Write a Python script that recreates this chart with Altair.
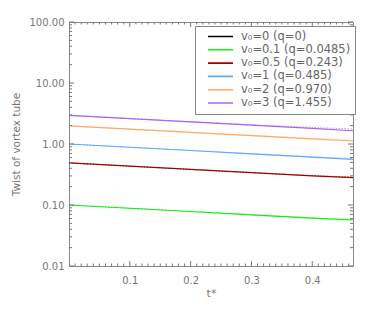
import altair as alt
import pandas as pd

# ---- data ----
t_vals = [0.0, 0.1, 0.2, 0.3, 0.4, 0.467]
series_labels = [
    "v₀=0 (q=0)",
    "v₀=0.1 (q=0.0485)",
    "v₀=0.5 (q=0.243)",
    "v₀=1 (q=0.485)",
    "v₀=2 (q=0.970)",
    "v₀=3 (q=1.455)",
]
series_colors = ["#000000", "#10f010", "#a00000", "#60a8ff", "#ffaa66", "#a864f0"]

green = [0.100, 0.0884, 0.0782, 0.0691, 0.0611, 0.0568]
red = [0.490, 0.433, 0.383, 0.339, 0.300, 0.280]
blue = [1.00, 0.884, 0.782, 0.691, 0.611, 0.560]
orange = [1.98, 1.75, 1.55, 1.37, 1.21, 1.12]
purple = [2.95, 2.61, 2.31, 2.04, 1.80, 1.65]

green_d = [0.100, 0.0884, 0.0782, 0.0692, 0.0613, 0.0572]
red_d = [0.490, 0.433, 0.383, 0.340, 0.303, 0.287]
blue_d = [1.00, 0.884, 0.782, 0.694, 0.618, 0.575]
orange_d = [1.98, 1.75, 1.55, 1.38, 1.23, 1.15]
purple_d = [2.95, 2.61, 2.32, 2.07, 1.87, 1.76]

y_major = [0.01, 0.1, 1, 10, 100]
x_major = [0.1, 0.2, 0.3, 0.4]

# ---- tables ----
solid_sets = [(series_labels[1], green), (series_labels[2], red), (series_labels[3], blue),
              (series_labels[4], orange), (series_labels[5], purple)]
dotted_sets = [(series_labels[1], green_d), (series_labels[2], red_d), (series_labels[3], blue_d),
               (series_labels[4], orange_d), (series_labels[5], purple_d)]

solid = pd.DataFrame([{"t": t, "v": v, "s": s} for s, vals in solid_sets for t, v in zip(t_vals, vals)])
dotted = pd.DataFrame([{"t": t, "v": v, "s": s} for s, vals in dotted_sets for t, v in zip(t_vals, vals)])

y_minor = [m * d for d in [0.01, 0.1, 1, 10] for m in range(2, 10)]
x_minor = [round(i * 0.01, 2) for i in range(1, 47) if i % 10 != 0]

W, H = 284, 244
xs = alt.Scale(domain=[0, 0.467], nice=False, zero=False)
ys = alt.Scale(type="log", domain=[0.01, 100], nice=False)
cs = alt.Scale(domain=series_labels, range=series_colors)

base_x = alt.X("t:Q", scale=xs,
               axis=alt.Axis(values=x_major, format=".1f", ticks=False, domain=False, grid=False,
                             labelPadding=9, title="t*", titlePadding=2))
base_y = alt.Y("v:Q", scale=ys,
               axis=alt.Axis(values=y_major, format=".2f", ticks=False, domain=False, grid=False,
                             labelPadding=5, title="Twist of vortex tube", titlePadding=8,
                             titleFontSize=10.5))

lines = alt.Chart(solid).mark_line(strokeWidth=1.2).encode(
    x=base_x, y=base_y,
    color=alt.Color("s:N", scale=cs, sort=series_labels,
                    legend=alt.Legend(title=None, orient="none", legendX=126, legendY=4,
                                      symbolType="stroke", symbolSize=625, symbolStrokeWidth=1.6,
                                      clipHeight=13, rowPadding=0.3, padding=4, symbolOffset=8,
                                      labelOffset=7, labelLimit=300, labelFontSize=11.5,
                                      labelFont="DejaVu Sans", labelColor="#666666",
                                      strokeColor="#888888", fillColor="#ffffff")),
)
dots = alt.Chart(dotted).mark_line(strokeWidth=1, strokeDash=[1, 2]).encode(
    x=alt.X("t:Q", scale=xs), y=alt.Y("v:Q", scale=ys),
    color=alt.Color("s:N", scale=cs, legend=None),
)

tick_col = "#777777"
xmaj = pd.DataFrame({"t": x_major})
xmin = pd.DataFrame({"t": x_minor})
ymaj = pd.DataFrame({"v": y_major})
ymin = pd.DataFrame({"v": y_minor})

def xticks(df, length):
    bot = alt.Chart(df).mark_rule(color=tick_col, strokeWidth=1).encode(
        x=alt.X("t:Q", scale=xs), y=alt.value(H), y2=alt.value(H - length))
    top = alt.Chart(df).mark_rule(color=tick_col, strokeWidth=1).encode(
        x=alt.X("t:Q", scale=xs), y=alt.value(0), y2=alt.value(length))
    return [bot, top]

def yticks(df, length):
    lft = alt.Chart(df).mark_rule(color=tick_col, strokeWidth=1).encode(
        y=alt.Y("v:Q", scale=ys), x=alt.value(0), x2=alt.value(length))
    rgt = alt.Chart(df).mark_rule(color=tick_col, strokeWidth=1).encode(
        y=alt.Y("v:Q", scale=ys), x=alt.value(W), x2=alt.value(W - length))
    return [lft, rgt]

layers = [lines, dots] + xticks(xmaj, 5) + xticks(xmin, 2.5) + yticks(ymaj, 5) + yticks(ymin, 3)

chart = alt.layer(*layers).properties(
    width=W, height=H,
    background="white",
    autosize=alt.AutoSizeParams(type="none"),
    padding={"left": 61, "top": 14, "right": 13, "bottom": 37},
).configure_view(stroke="#888888", strokeWidth=1).configure_axis(
    labelFont="DejaVu Sans", labelFontSize=10, labelColor="#777777",
    titleFont="DejaVu Sans", titleFontSize=11, titleColor="#777777", titleFontWeight="normal",
)

chart.save("out.html", embed_options={"renderer": "svg", "actions": False})
